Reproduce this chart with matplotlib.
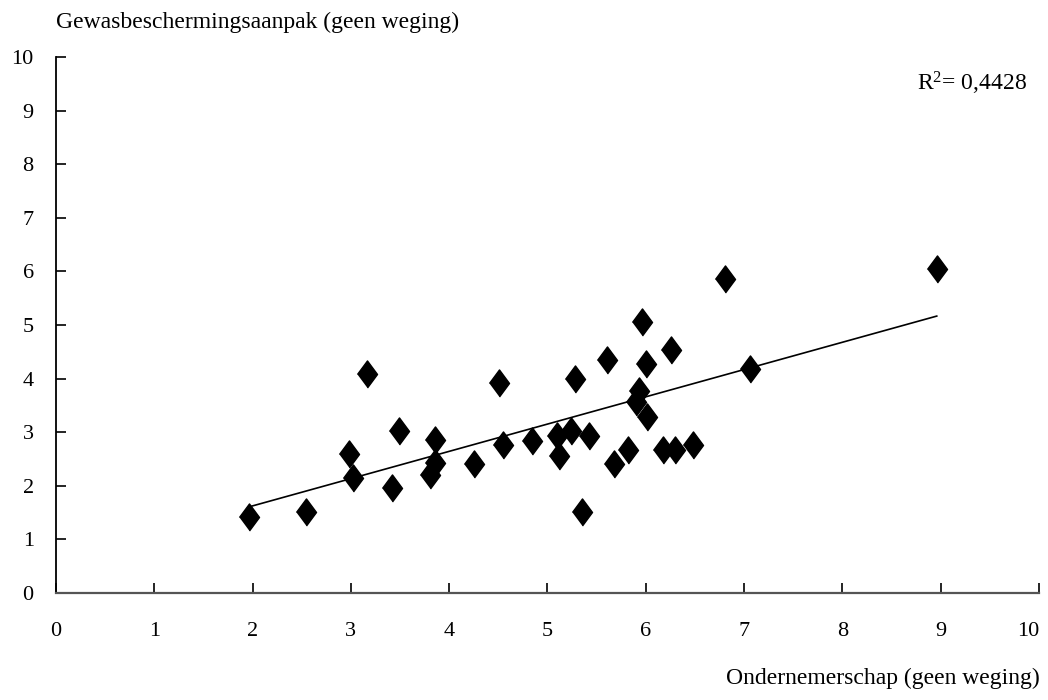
import matplotlib
matplotlib.use("Agg")
import matplotlib.pyplot as plt
import numpy as np

# Ondernemerschap (x) en Gewasbeschermingsaanpak (y), geen weging
ondernemerschap = [1.96, 2.54, 3.16, 2.98, 3.02, 3.42, 3.49, 3.86, 3.86, 3.81,
                   4.25, 4.51, 4.55, 4.84, 5.10, 5.12, 5.24, 5.28, 5.35, 5.42,
                   5.61, 5.68, 5.82, 5.96, 6.00, 5.93, 5.90, 6.01, 6.26, 6.18,
                   6.30, 6.48, 6.81, 7.06, 8.96]
gewasbescherming = [1.42, 1.51, 4.08, 2.59, 2.15, 1.96, 3.02, 2.85, 2.43, 2.20,
                    2.41, 3.92, 2.76, 2.84, 2.93, 2.56, 3.02, 3.99, 1.51, 2.93,
                    4.35, 2.41, 2.67, 5.06, 4.27, 3.77, 3.56, 3.28, 4.53, 2.67,
                    2.67, 2.76, 5.86, 4.18, 6.04]
ticks = list(range(0, 11))
r2_tekst = r"R$^{2}$= 0,4428"

plt.rcParams['font.family'] = ['Liberation Serif', 'DejaVu Serif']
plt.rcParams['mathtext.fontset'] = 'custom'
plt.rcParams['mathtext.rm'] = 'Liberation Serif'
plt.rcParams['mathtext.it'] = 'Liberation Serif'
plt.rcParams['mathtext.default'] = 'regular'

fig = plt.figure(figsize=(10.48, 7.0), dpi=100)
ax = fig.add_axes([0.0534, 0.1529, 0.938, 0.7657])

x = np.array(ondernemerschap)
y = np.array(gewasbescherming)

# lineaire trendlijn
a, b = np.polyfit(x, y, 1)
xl = np.array([x.min(), x.max()])
ax.plot(xl, a * xl + b, color='black', linewidth=1.2, zorder=2)

ruit = [(-0.74, 0), (0, 1), (0.74, 0), (0, -1)]
ax.plot(x, y, linestyle='none', marker=ruit, markersize=19.5,
        color='black', zorder=3)

ax.set_xlim(0, 10)
ax.set_ylim(0, 10)
ax.set_xticks(ticks)
ax.set_yticks(ticks)
ax.tick_params(axis='both', direction='in', length=7.5, width=1.2,
               labelsize=16, colors='black')
ax.tick_params(axis='x', pad=21)
ax.tick_params(axis='y', pad=16)
# laatste label (10) niet buiten de figuur laten vallen
ax.get_xticklabels()[-1].set_horizontalalignment('right')

for s in ['top', 'right']:
    ax.spines[s].set_visible(False)
ax.spines['left'].set_linewidth(1.3)
ax.spines['bottom'].set_linewidth(1.6)
ax.spines['bottom'].set_color('#555555')
ax.spines['left'].set_color('black')

fig.text(56 / 1048, 1 - 22 / 700, "Gewasbeschermingsaanpak (geen weging)",
         ha='left', va='center', fontsize=17)
fig.text(1040 / 1048, 1 - 678 / 700, "Ondernemerschap (geen weging)",
         ha='right', va='center', fontsize=17)
fig.text(1027 / 1048, 1 - 83 / 700, r2_tekst,
         ha='right', va='center', fontsize=17)

plt.savefig("out.png", dpi=100)
